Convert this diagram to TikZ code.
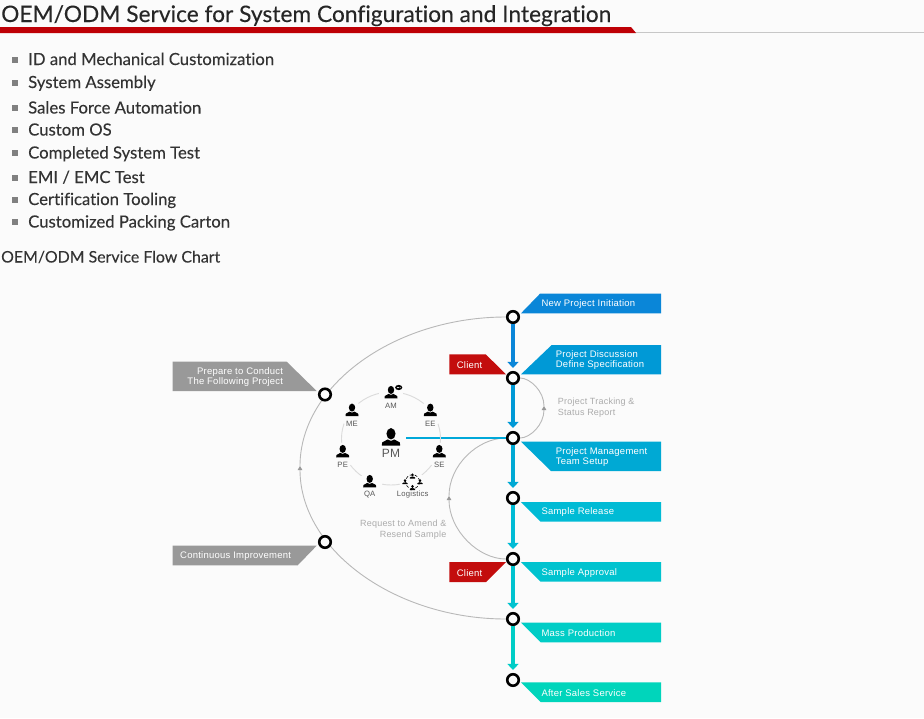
\documentclass[tikz,border=0pt]{standalone}
\usepackage{fontspec}
\setmainfont[Ligatures=NoCommon,FakeBold=0.12]{Lato}
\newfontfamily\flowfont[LetterSpace=2.5]{Liberation Sans}
\usetikzlibrary{arrows.meta}
\usepackage{xcolor}

\definecolor{pagebg}{HTML}{FBFBFB}
\definecolor{titlered}{HTML}{BE0006}
\definecolor{clientred}{HTML}{C30D0D}
\definecolor{boxgray}{HTML}{999999}
\definecolor{stepA}{HTML}{0A86D8}
\definecolor{stepB}{HTML}{0099D6}
\definecolor{stepC}{HTML}{00A9D4}
\definecolor{stepD}{HTML}{00BBD5}
\definecolor{stepE}{HTML}{00C3CF}
\definecolor{stepF}{HTML}{00CDC6}
\definecolor{stepG}{HTML}{00D5BB}

\tikzset{
  headline/.style={anchor=base west,inner sep=0pt,text=black!85,font=\fontsize{22.75}{24}\selectfont},
  listline/.style={anchor=base west,inner sep=0pt,text=black!80,font=\fontsize{16.72}{18}\selectfont},
  boxtext/.style={anchor=west,inner sep=0pt,text=white,font=\flowfont\fontsize{9.5}{9.6}\selectfont,align=left},
  graytext/.style={anchor=west,inner sep=0pt,text=black!33,font=\flowfont\fontsize{9}{11}\selectfont},
  stop/.style={circle,draw=black,fill=pagebg,line width=2.6pt,minimum size=11.5pt,inner sep=0pt},
  flowline/.style={line width=3.4pt,shorten >=3pt,-{Triangle[width=11pt,length=6pt]}},
  returnline/.style={draw=black!28,line width=0.9pt},
  returntip/.style={returnline,-{Triangle[width=4.5pt,length=4pt,black!40]}},
  teamlabel/.style={inner sep=0pt,text=black!65,font=\flowfont\fontsize{7.7}{8}\selectfont},
  pics/person/.style={code={
    \fill[black] (0,-8.4) ellipse[x radius=3.2,y radius=4];
    \fill[black] (-6.5,0) -- (6.5,0) -- (6.2,-2.3) -- (2.4,-4.4) -- (0,-3.4)
      -- (-2.4,-4.4) -- (-6.2,-2.3) -- cycle;
  }}
}

\begin{document}
\begin{tikzpicture}[x=1pt,y=-1pt]
  \fill[pagebg] (0,0) rectangle (924,718);
  \useasboundingbox (0,0) rectangle (924,718);

  % Heading and list.
  \draw[black!22,line width=0.7pt] (0,32.6) -- (924,32.6);
  \fill[titlered] (0,27) -- (631,27) -- (636,33) -- (0,33) -- cycle;
  \node[headline] (title) at (1,22) {OEM/ODM Service for System Configuration and Integration};
  \foreach \y/\lab/\name in {59.5/ID and Mechanical Customization/a,82.5/System Assembly/b,
    108/Sales Force Automation/c,130/Custom OS/d,153/Completed System Test/e,
    177.5/{EMI / EMC Test}/f,199.5/Certification Tooling/g,222/Customized Packing Carton/h}
    {
      \fill[black!50] (12,\y-3) rectangle (18,\y+3);
      \node[listline] (list\name) at (28,\y+5.5) {\lab};
    }
  \node[listline,font=\fontsize{15.9}{18}\selectfont] (flowtitle) at (1,262.5) {OEM/ODM Service Flow Chart};

  % Stops on the main line.
  \coordinate (bigwest) at (300,466);
  \coordinate (smalleast) at (544,406);
  \coordinate (midwest) at (449,496);
  \coordinate (pmright) at (406,438);
  \foreach \y/\name in {317/initiation,378/discussion,438/setup,498/release,559/approval,619/production,680/service}
    \node[stop] (\name) at (513,\y) {};

  % Return curves and team line.
  \draw[returntip] (production) .. controls (395,619) and (300,550) .. (bigwest);
  \draw[returnline] (bigwest) .. controls (300,385) and (395,317) .. (initiation);
  \draw[returntip] (setup) .. controls (530,438) and (544,425) .. (smalleast);
  \draw[returnline] (smalleast) .. controls (544,391) and (530,378) .. (discussion);
  \draw[returntip] (approval) .. controls (478,559) and (449,530) .. (midwest);
  \draw[returnline] (midwest) .. controls (449,465) and (478,438) .. (setup);
  \draw[stepD!90!blue,line width=1.4pt] (pmright) -- (setup);
  \node[stop] (prepare) at (325,394.5) {};
  \node[stop] (improve) at (325,542) {};

  % Arrows between stops.
  \foreach \a/\b/\col in {initiation/discussion/stepA,discussion/setup/stepB,setup/release/stepC,
    release/approval/stepD,approval/production/stepE,production/service/stepF}
    \draw[flowline,\col] (\a) -- (\b);

  % Boxes on the right.
  \fill[stepA] (521,313.3) -- (540,293.7) -- (661,293.7) -- (661,313.3) -- cycle;
  \fill[stepB] (521,374.3) -- (551.7,345) -- (661,345) -- (661,374.3) -- cycle;
  \fill[stepC] (521,441.7) -- (551,471) -- (661,471) -- (661,441.7) -- cycle;
  \foreach \y/\col in {502/stepD,562/stepE,622.7/stepF,682.3/stepG}
    \fill[\col] (521,\y) -- (540.7,\y+19.7) -- (661,\y+19.7) -- (661,\y) -- cycle;
  \node[boxtext] (initiationbox) at (541.3,304.2) {New Project Initiation};
  \node[boxtext] (discussionbox) at (555.7,360.3) {Project Discussion\\Define Specification};
  \node[boxtext] (setupbox) at (555.7,457) {Project Management\\Team Setup};
  \node[boxtext] (releasebox) at (541.3,512.4) {Sample Release};
  \node[boxtext] (approvalbox) at (541.3,573.2) {Sample Approval};
  \node[boxtext] (productionbox) at (541.3,633.2) {Mass Production};
  \node[boxtext] (servicebox) at (541.3,693.2) {After Sales Service};

  % Client tags.
  \fill[clientred] (449.3,354.3) -- (485.7,354.3) -- (506,374.3) -- (449.3,374.3) -- cycle;
  \fill[clientred] (449.3,562) -- (506,562) -- (486,582) -- (449.3,582) -- cycle;
  \node[boxtext] (clientup) at (456.7,365.5) {Client};
  \node[boxtext] (clientdown) at (456.7,573.2) {Client};

  % Gray tags on the left.
  \fill[boxgray] (172.7,361.7) -- (286.7,361.7) -- (316.7,391) -- (172.7,391) -- cycle;
  \fill[boxgray] (172.7,545.7) -- (316.7,545.7) -- (297.7,565.3) -- (172.7,565.3) -- cycle;
  \node[boxtext,anchor=east,align=right] (preparebox) at (283.3,377) {Prepare to Conduct\\The Following Project};
  \node[boxtext] (improvebox) at (180,556.2) {Continuous Improvement};

  % Gray notes.
  \node[graytext,align=left] (trackingnote) at (557.7,408) {Project Tracking \&\\Status Report};
  \node[graytext,anchor=east,align=right] (amendnote) at (446.5,529.7) {Request to Amend \&\\Resend Sample};

  % Team ring.
  \draw[black!14,line width=0.9pt] (391,438.5) ellipse[x radius=49.5,y radius=46.5];
  \foreach \x/\y/\lab in {391/398.3/AM,352/416/ME,430.3/416/EE,342.7/457.3/PE,439.3/457.3/SE,369.7/487.3/QA}
    {
      \fill[pagebg] (\x,\y-2) circle[radius=12.5];
      \pic at (\x,\y) {person};
      \node[teamlabel] (team\lab) at (\x,\y+7.4) {\lab};
    }
  \fill[pagebg] (412.7,484) circle[radius=13];
  \node[teamlabel] (teamlogistics) at (412.7,494.8) {Logistics};
  \draw[black,line width=0.6pt,densely dashed] (412.5,481.7) circle[radius=7];
  \foreach \x/\y in {412.5/478.5,405/484.2,420/484.2,412.5/490}
    \pic[scale=0.42] at (\x,\y) {person};
  \fill[black] (398.7,387.5) ellipse[x radius=3.6,y radius=2.6];
  \foreach \x in {397.3,398.7,400.1}
    \fill[white] (\x,387.5) circle[radius=0.5];

  % Project manager.
  \pic[scale=1.42] at (391,445.7) {person};
  \node[inner sep=0pt,text=black!65,font=\flowfont\fontsize{12}{12}\selectfont] (teampm) at (391,453.5) {PM};
\end{tikzpicture}
\end{document}
